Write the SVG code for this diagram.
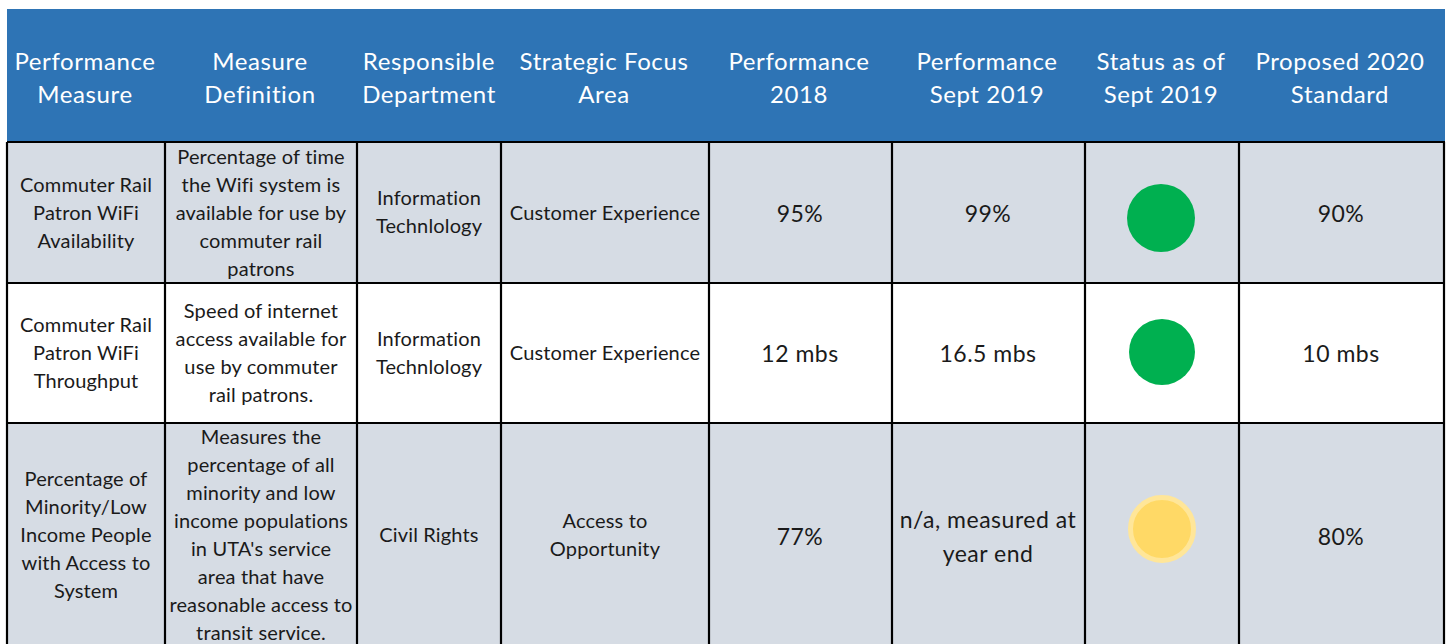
<svg xmlns="http://www.w3.org/2000/svg" width="1447" height="644" viewBox="0 0 1447 644">
<style>
text{font-family:Lato,"Noto Sans","Liberation Sans",sans-serif;text-anchor:middle;fill:#1a1a1a}
.h{fill:#fff;font-size:24px;letter-spacing:0.6px}
.b{font-size:20px;letter-spacing:0.15px}
.v{font-size:23px;letter-spacing:0.5px}
.grid{stroke:#000;stroke-width:2.2;fill:none}
.gray{fill:#D6DCE4}
</style>
<rect width="1447" height="644" fill="#fff"/>
<g id="header">
<rect x="7" y="9" width="1438" height="133" fill="#2E74B5"/>
<text class="h" x="85" y="70">Performance</text><text class="h" x="85" y="103">Measure</text>
<text class="h" x="260" y="70">Measure</text><text class="h" x="260" y="103">Definition</text>
<text class="h" x="429" y="70">Responsible</text><text class="h" x="429" y="103">Department</text>
<text class="h" x="604" y="70">Strategic Focus</text><text class="h" x="604" y="103">Area</text>
<text class="h" x="799" y="70">Performance</text><text class="h" x="799" y="103">2018</text>
<text class="h" x="987" y="70">Performance</text><text class="h" x="987" y="103">Sept 2019</text>
<text class="h" x="1161" y="70">Status as of</text><text class="h" x="1161" y="103">Sept 2019</text>
<text class="h" x="1340" y="70">Proposed 2020</text><text class="h" x="1340" y="103">Standard</text>
</g>
<g id="row1">
<rect class="gray" x="7" y="142" width="1438" height="141"/>
<text class="b" x="86" y="192">Commuter Rail</text><text class="b" x="86" y="220">Patron WiFi</text><text class="b" x="86" y="248">Availability</text>
<text class="b" x="261" y="164">Percentage of time</text><text class="b" x="261" y="192">the Wifi system is</text><text class="b" x="261" y="220">available for use by</text><text class="b" x="261" y="248">commuter rail</text><text class="b" x="261" y="276">patrons</text>
<text class="b" x="429" y="205">Information</text><text class="b" x="429" y="233">Technlology</text>
<text class="b" x="605" y="220">Customer Experience</text>
<text class="v" x="800" y="222">95%</text>
<text class="v" x="988" y="222">99%</text>
<circle cx="1161" cy="218" r="34" fill="#00B050"/>
<text class="v" x="1341" y="222">90%</text>
</g>
<g id="row2">
<rect x="7" y="283" width="1438" height="140" fill="#fff"/>
<text class="b" x="86" y="332">Commuter Rail</text><text class="b" x="86" y="360">Patron WiFi</text><text class="b" x="86" y="388">Throughput</text>
<text class="b" x="261" y="318">Speed of internet</text><text class="b" x="261" y="346">access available for</text><text class="b" x="261" y="374">use by commuter</text><text class="b" x="261" y="402">rail patrons.</text>
<text class="b" x="429" y="346">Information</text><text class="b" x="429" y="374">Technlology</text>
<text class="b" x="605" y="360">Customer Experience</text>
<text class="v" x="800" y="362">12 mbs</text>
<text class="v" x="988" y="362">16.5 mbs</text>
<circle cx="1162" cy="352" r="33" fill="#00B050"/>
<text class="v" x="1341" y="362">10 mbs</text>
</g>
<g id="row3">
<rect class="gray" x="7" y="423" width="1438" height="225"/>
<text class="b" x="86" y="486">Percentage of</text><text class="b" x="86" y="514">Minority/Low</text><text class="b" x="86" y="542">Income People</text><text class="b" x="86" y="570">with Access to</text><text class="b" x="86" y="598">System</text>
<text class="b" x="261" y="444">Measures the</text><text class="b" x="261" y="472">percentage of all</text><text class="b" x="261" y="500">minority and low</text><text class="b" x="261" y="528">income populations</text><text class="b" x="261" y="556">in UTA's service</text><text class="b" x="261" y="584">area that have</text><text class="b" x="261" y="612">reasonable access to</text><text class="b" x="261" y="640">transit service.</text>
<text class="b" x="429" y="542">Civil Rights</text>
<text class="b" x="605" y="528">Access to</text><text class="b" x="605" y="556">Opportunity</text>
<text class="v" x="800" y="545">77%</text>
<text class="v" x="988" y="528">n/a, measured at</text><text class="v" x="988" y="562">year end</text>
<circle cx="1162" cy="529" r="31.5" fill="#FFD966" stroke="#FFE699" stroke-width="5"/>
<text class="v" x="1341" y="545">80%</text>
</g>
<g id="connectors">
<path class="grid" d="M7 142H1445M7 283H1445M7 423H1445M7 142V644M165 142V644M357 142V644M501 142V644M709 142V644M892 142V644M1085 142V644M1239 142V644M1444 142V644"/>
</g>
</svg>
